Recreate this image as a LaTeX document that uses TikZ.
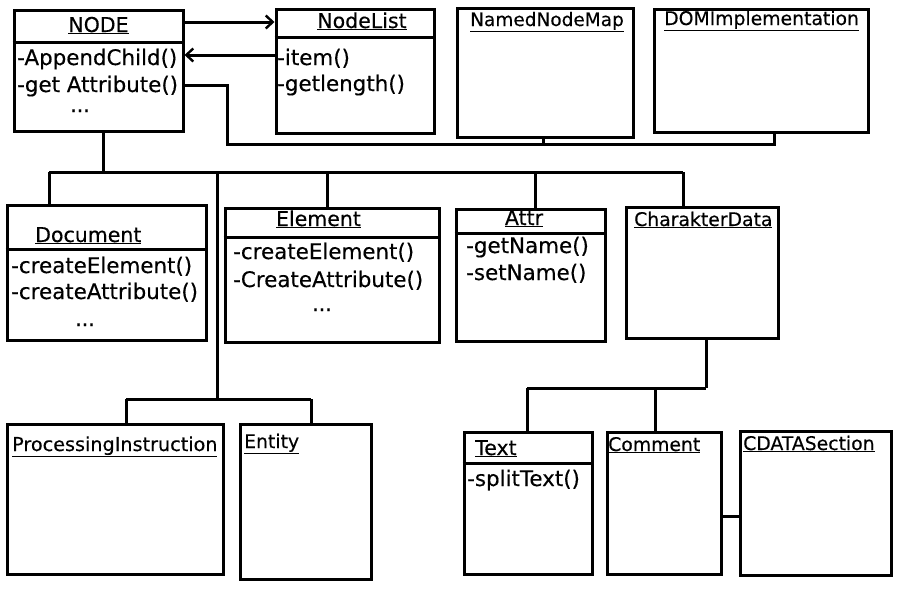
\documentclass[tikz,border=0pt]{standalone}
\usepackage{fontspec}
\setmainfont{DejaVu Sans}
\newfontfamily\hf[FakeBold=0.35]{DejaVu Sans}
\usetikzlibrary{arrows.meta,fit}
\begin{document}
\begin{tikzpicture}[x=1pt,y=-1pt,
  box/.style={draw,line width=3pt,inner sep=0pt},
  conn/.style={line width=3pt},
  arr/.style={conn,-{Straight Barb[length=7pt,width=13pt,line width=2.4pt]}},
  m/.style={font=\hf\fontsize{21.4}{24}\selectfont,inner sep=0pt,anchor=base west},
  tb/.style={font=\hf\fontsize{20.5}{24}\selectfont,inner sep=0pt,anchor=base},
  tbw/.style={font=\hf\fontsize{20.5}{24}\selectfont,inner sep=0pt,anchor=base west},
  ts/.style={font=\hf\fontsize{18.8}{22}\selectfont,inner sep=0pt,anchor=base west}]
\useasboundingbox (0,0) rectangle (900,600);
% boxes
\node[box,fit={(14,10) (183,131)}] (NODE) {};
\node[box,fit={(276,9) (434,133)}] (NodeList) {};
\node[box,fit={(457,8) (633,137)}] (NNM) {};
\node[box,fit={(654,9) (868,132)}] (DOM) {};
\node[box,fit={(7,205) (206,340)}] (Document) {};
\node[box,fit={(225,208) (439,342)}] (Element) {};
\node[box,fit={(456,209) (605,341)}] (Attr) {};
\node[box,fit={(626,207) (778,338)}] (CD) {};
\node[box,fit={(7,424) (223,574)}] (PI) {};
\node[box,fit={(240,424) (371,579)}] (Entity) {};
\node[box,fit={(464,432) (592,574)}] (Text) {};
\node[box,fit={(607,432) (721,574)}] (Comment) {};
\node[box,fit={(740,431) (891,575)}] (CDATA) {};
% dividers
\draw[conn] (NODE.west |- 0,42) -- (NODE.east |- 0,42);
\draw[conn] (NodeList.west |- 0,37) -- (NodeList.east |- 0,37);
\draw[conn] (Document.west |- 0,249) -- (Document.east |- 0,249);
\draw[conn] (Element.west |- 0,237) -- (Element.east |- 0,237);
\draw[conn] (Attr.west |- 0,233) -- (Attr.east |- 0,233);
\draw[conn] (Text.west |- 0,463) -- (Text.east |- 0,463);
% texts
\node[tb] (tNODE) at (98.5,32) {\underline{NODE}};
\node[m] (n1) at (17,65) {-AppendChild()};
\node[m] (n2) at (17,92) {-get Attribute()};
\node[tb] (n3) at (80,112) {...};
\node[tb] (tNL) at (362,28) {\underline{NodeList}};
\node[m] (l1) at (277,65) {-item()};
\node[m] (l2) at (277,91) {-getlength()};
\node[font=\hf\fontsize{18.5}{21}\selectfont,inner sep=0pt,anchor=base west] (tNNM) at (470,26) {\underline{NamedNodeMap}};
\node[ts] (tDOM) at (664,25) {\underline{DOMImplementation}};
\node[tbw] (tDoc) at (35,242) {\underline{Document}};
\node[m] (d1) at (11,273) {-createElement()};
\node[m] (d2) at (11,299) {-createAttribute()};
\node[tb] (d3) at (85,326) {...};
\node[tb] (tEl) at (318.5,226) {\underline{Element}};
\node[m] (e1) at (233,259) {-createElement()};
\node[m] (e2) at (233,287) {-CreateAttribute()};
\node[tb] (e3) at (322,311) {...};
\node[tb] (tAttr) at (524,225) {\underline{Attr}};
\node[m] (a1) at (466,253) {-getName()};
\node[m] (a2) at (466,280) {-setName()};
\node[ts] (tCD) at (634,226) {\underline{CharakterData}};
\node[font=\hf\fontsize{19.2}{22}\selectfont,inner sep=0pt,anchor=base west] (tPI) at (12,451) {\underline{ProcessingInstruction}};
\node[ts] (tEnt) at (244,448) {\underline{Entity}};
\node[tbw] (tText) at (475,455) {\underline{Text}};
\node[m] (x1) at (467,486) {-splitText()};
\node[ts] (tCom) at (608,451) {\underline{Comment}};
\node[ts] (tCDATA) at (743,450) {\underline{CDATASection}};
% connectors
\draw[arr] (NODE.east |- 0,22) -- (NodeList.west |- 0,22);
\draw[arr] (NodeList.west |- 0,55) -- (NODE.east |- 0,55);
\draw[conn] (NODE.east |- 0,85) -| (227,144) -- (774,144) -- (DOM.south -| 774,0);
\draw[conn] (NNM.south -| 543,0) -- (543,144);
\draw[conn] (NODE.south -| 103,0) -- (103,172);
\draw[conn] (49,172) -- (683,172);
\draw[conn] (49,172) -- (Document.north -| 49,0);
\draw[conn] (327,172) -- (Element.north -| 327,0);
\draw[conn] (535,172) -- (Attr.north -| 535,0);
\draw[conn] (683,172) -- (CD.north -| 683,0);
\draw[conn] (217,172) -- (217,399);
\draw[conn] (126,399) -- (311,399);
\draw[conn] (126,399) -- (PI.north -| 126,0);
\draw[conn] (311,399) -- (Entity.north -| 311,0);
\draw[conn] (CD.south -| 706,0) -- (706,388);
\draw[conn] (527,388) -- (706,388);
\draw[conn] (527,388) -- (Text.north -| 527,0);
\draw[conn] (655,388) -- (Comment.north -| 655,0);
\draw[conn] (Comment.east |- 0,516) -- (CDATA.west |- 0,516);
\end{tikzpicture}
\end{document}
